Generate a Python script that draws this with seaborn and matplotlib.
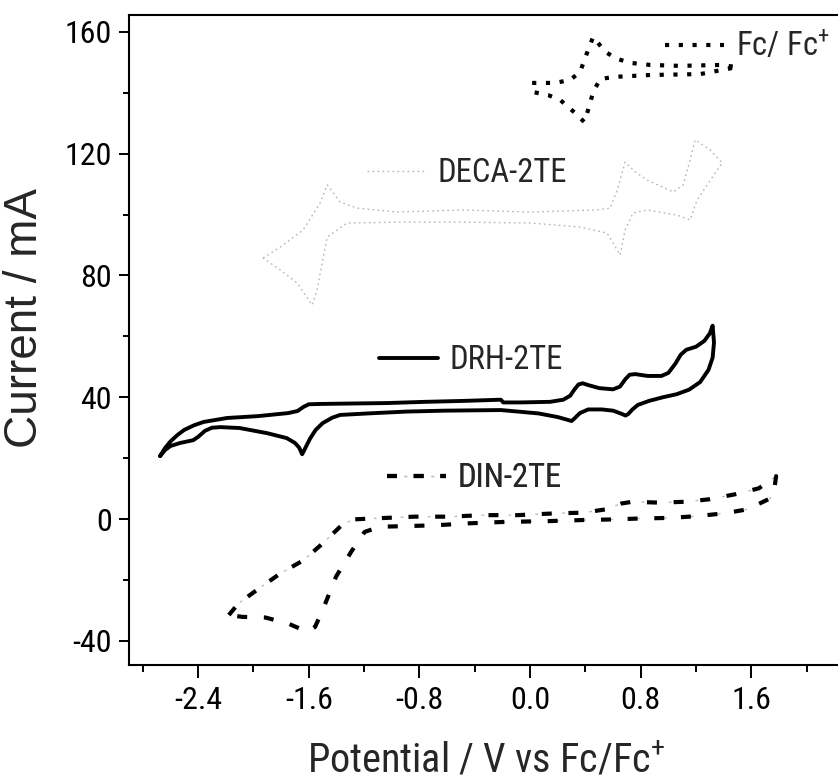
import matplotlib
matplotlib.use("Agg")
import matplotlib.pyplot as plt
import matplotlib.font_manager as fm
from matplotlib.ticker import MultipleLocator, FixedLocator
import seaborn as sns
import pandas as pd

# ---------------- data ----------------
fc_x = [0.015, 0.181, 0.29, 0.362, 0.398, 0.434, 0.456, 0.485, 0.543, 0.63, 0.724, 0.868, 1.086, 1.374, 1.497,
        1.23, 0.868, 0.615, 0.507, 0.456, 0.434, 0.413, 0.391, 0.326, 0.218, 0.131, 0.022]
fc_y = [143.2, 143.2, 144.2, 146.8, 151.4, 155.7, 158.3, 156.7, 153.4, 151.1, 149.8, 149.1, 148.8, 149.1, 148.4,
        146.1, 145.8, 145.2, 144.5, 140.2, 136.6, 133.3, 130.4, 133.3, 137.6, 139.2, 140.2]

deca_x = [-1.930, -1.807, -1.641, -1.518, -1.467, -1.373, -1.250, -0.961, -0.484, 0.001, 0.485, 0.579, 0.630,
          0.687, 0.760, 0.847, 1.035, 1.107, 1.157, 1.194, 1.302, 1.389, 1.353, 1.208, 1.157, 1.063, 0.847,
          0.745, 0.687, 0.651, 0.557, 0.362, 0.001, -0.484, -0.961, -1.323, -1.467, -1.503, -1.540, -1.576,
          -1.684, -1.807, -1.930]
deca_y = [85.7, 89.3, 94.9, 103.8, 109.7, 104.1, 102.1, 100.8, 101.5, 100.8, 101.5, 102.1, 108.0,
          117.2, 114.0, 111.3, 107.4, 109.7, 117.9, 124.5, 121.2, 116.9, 114.6, 104.8, 98.2, 99.8, 101.5,
          100.5, 94.9, 86.7, 93.9, 95.9, 97.2, 97.5, 97.5, 97.2, 92.6, 84.1, 75.2, 70.3,
          77.5, 81.8, 85.7]

drh_x = [-2.675, -2.640, -2.600, -2.550, -2.500, -2.430, -2.360, -2.190, -1.970, -1.750, -1.680, -1.640,
         -1.600, -1.520, -1.373, -1.032, -0.758, -0.485, -0.211, -0.194, -0.074, 0.145, 0.240, 0.290,
         0.320, 0.350, 0.380, 0.420, 0.500, 0.600, 0.650, 0.690, 0.720, 0.760, 0.850, 0.950, 1.000, 1.050,
         1.090, 1.130, 1.200, 1.260, 1.300, 1.320,
         1.330, 1.320, 1.290, 1.230, 1.150, 1.060, 0.960, 0.860, 0.780, 0.740, 0.710, 0.690, 0.660, 0.600,
         0.520, 0.420, 0.360, 0.320, 0.300, 0.270, 0.200, 0.060, -0.211, -0.621, -0.895, -1.169, -1.373,
         -1.430, -1.500, -1.550, -1.590, -1.620, -1.648, -1.670, -1.700, -1.760, -1.900, -2.100, -2.240,
         -2.300, -2.350, -2.400, -2.436, -2.530, -2.600, -2.639, -2.675]
drh_y = [20.7, 23.3, 25.5, 27.6, 29.3, 30.8, 31.9, 33.2, 33.8, 34.8, 35.5, 36.8,
         37.7, 37.8, 37.9, 38.1, 38.5, 38.8, 39.2, 38.3, 38.3, 38.5, 39.2, 40.5,
         42.5, 44.2, 44.6, 44.0, 43.0, 42.6, 43.5, 46.0, 47.4, 47.6, 47.0, 47.0, 48.0, 51.0,
         54.0, 55.6, 56.6, 58.5, 61.0, 63.5,
         58.0, 53.0, 49.0, 45.0, 42.5, 41.0, 40.0, 38.8, 37.5, 36.0, 34.5, 34.0, 34.6, 35.6,
         36.0, 36.0, 34.8, 33.0, 32.2, 32.6, 33.5, 34.7, 35.8, 35.6, 35.3, 34.7, 34.2,
         33.3, 31.5, 29.3, 26.5, 23.8, 21.3, 23.5, 25.0, 26.6, 28.2, 29.9, 30.2,
         30.0, 29.0, 27.0, 25.9, 25.0, 24.0, 22.7, 20.7]

din_x = [-2.178, -2.109, -1.943, -1.804, -1.638, -1.500, -1.362, -1.279, -1.140, -0.836, -0.587, -0.338,
         -0.089, 0.188, 0.382, 0.548, 0.658, 0.741, 0.935, 1.129, 1.295, 1.488, 1.654, 1.779,
         1.765, 1.737, 1.571, 1.405, 1.212, 1.018, 0.796, 0.603, 0.382, 0.105, -0.172, -0.449, -0.670,
         -0.891, -1.085, -1.196, -1.293, -1.403, -1.500, -1.555, -1.611, -1.749, -1.915, -2.081, -2.178]
din_y = [-31.5, -27.7, -22.2, -17.8, -13.5, -8.0, -2.0, -0.1, 0.2, 0.8, 0.8, 1.3,
         1.3, 1.9, 2.1, 3.2, 5.1, 5.7, 5.4, 5.7, 6.5, 8.2, 10.1, 14.1,
         9.5, 6.8, 3.2, 1.9, 1.0, 0.4, 0.2, -0.1, -0.3, -0.7, -0.9, -1.4, -2.0,
         -2.3, -2.5, -4.2, -10.7, -18.9, -29.9, -35.4, -37.0, -34.3, -32.3, -32.1, -31.5]

series_labels = ["Fc/ Fc$^{+}$", "DECA-2TE", "DRH-2TE", "DIN-2TE"]
x_ticks = [-2.4, -1.6, -0.8, 0.0, 0.8, 1.6]
y_ticks = [-40, 0, 40, 80, 120, 160]
x_label = "Potential / V vs Fc/Fc$^{+}$"
y_label = "Current / mA"

# ---------------- style ----------------
sns.set_theme(style="ticks")
ttf = fm.fontManager.ttflist
names = {f.name for f in ttf}
narrow = None
stretch = "normal"
for cand in ["Liberation Sans Narrow", "Arial Narrow", "Roboto Condensed", "Open Sans Condensed"]:
    if cand in names:
        narrow = cand
        break
if narrow is None and any(f.name == "DejaVu Sans" and str(f.stretch) in ("condensed", "semi-condensed")
                          for f in ttf):
    narrow = "DejaVu Sans"
    stretch = "condensed"
if narrow is None:
    narrow = "Liberation Sans"
    fs_tick, fs_leg, fs_xlab = 20, 20, 26
else:
    fs_tick, fs_leg, fs_xlab = 23, 23.5, 29

plt.rcParams["font.family"] = [narrow, "DejaVu Sans"]
plt.rcParams["font.stretch"] = stretch
plt.rcParams["axes.unicode_minus"] = False
plt.rcParams["mathtext.fontset"] = "custom"
plt.rcParams["mathtext.rm"] = narrow
plt.rcParams["mathtext.it"] = narrow
plt.rcParams["mathtext.bf"] = narrow

fig = plt.figure(figsize=(8.38, 7.82), dpi=100)
ax_w = 5.3 * 138.3 / 838
ax = fig.add_axes([129 / 838, 1 - 665 / 782, ax_w, 650 / 782])

def draw(xs, ys, **kw):
    df = pd.DataFrame({"x": xs, "y": ys})
    sns.lineplot(data=df, x="x", y="y", sort=False, estimator=None, ax=ax, legend=False)
    ln = ax.lines[-1]
    for k, v in kw.items():
        getattr(ln, "set_" + k)(v)
    return ln

l_fc = draw(fc_x, fc_y, color="black", linewidth=3.0, linestyle=(0, (1.0, 2.3)), dash_capstyle="butt")
l_deca = draw(deca_x, deca_y, color="#b5b5b5", linewidth=1.0, linestyle=(0, (1.2, 2.4)))
l_drh = draw(drh_x, drh_y, color="black", linewidth=2.8, linestyle="-", solid_joinstyle="round")
l_din_g = draw(din_x, din_y, color="#bdbdbd", linewidth=1.0, linestyle=(7.2, (2.0, 17.4)))
l_din = draw(din_x, din_y, color="black", linewidth=3.0, linestyle=(0, (2.4, 4.0)), dash_capstyle="butt")

ax.set_xlim(-2.9, 2.4)
ax.set_ylim(-47.9, 165.5)
ax.xaxis.set_major_locator(FixedLocator(x_ticks))
ax.xaxis.set_minor_locator(MultipleLocator(0.4))
ax.yaxis.set_major_locator(FixedLocator(y_ticks))
ax.yaxis.set_minor_locator(MultipleLocator(20))
ax.set_xticklabels([f"{v:.1f}" for v in x_ticks])
ax.set_yticklabels([str(v) for v in y_ticks])

ax.tick_params(axis="both", which="major", direction="out", width=1.4, labelsize=fs_tick,
               color="black", labelcolor="black")
ax.tick_params(axis="x", which="major", length=9, pad=6)
ax.tick_params(axis="y", which="major", length=7.5, pad=5)
ax.tick_params(axis="x", which="minor", direction="out", length=5, width=1.4, color="black")
ax.tick_params(axis="y", which="minor", direction="out", length=4, width=1.4, color="black")
for s in ["left", "bottom", "top"]:
    ax.spines[s].set_linewidth(1.5)
    ax.spines[s].set_color("black")
ax.spines["right"].set_visible(False)

ax.set_xlabel(x_label, fontsize=fs_xlab)
ax.xaxis.set_label_coords(0.488, -0.118)
ax.set_ylabel(y_label, fontsize=33, family=["Liberation Sans", "DejaVu Sans"], stretch="normal")
ax.yaxis.set_label_coords(-0.112, 0.534)

# in-plot legend labels
leg_specs = [
    (l_fc, series_labels[0], (0.7313, 0.9508)),
    (l_deca, series_labels[1], (0.3247, 0.7569)),
    (l_drh, series_labels[2], (0.3411, 0.4692)),
    ((l_din_g, l_din), series_labels[3], (0.3520, 0.2877)),
]
for h, lab, anchor in leg_specs:
    lg = ax.legend([h], [lab], loc="center left", bbox_to_anchor=anchor, frameon=False,
                   fontsize=fs_leg, borderpad=0, borderaxespad=0, handlelength=1.85 * 23 / fs_leg,
                   handletextpad=0.35)
    ax.add_artist(lg)

fig.savefig("out.png", dpi=100)
